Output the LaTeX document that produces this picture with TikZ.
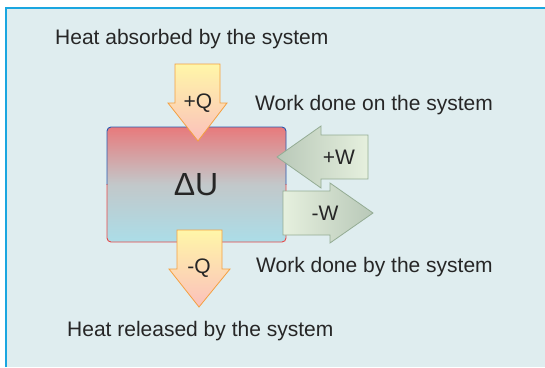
\documentclass[tikz,border=0pt]{standalone}
\usepackage{fontspec}
\setmainfont{Liberation Sans}
\begin{document}
\begin{tikzpicture}[x=1pt,y=-1pt,
  lbl/.style={inner sep=0pt, text=black!85, font=\fontsize{21}{24}\selectfont},
  qarrow/.style={top color=qtop, bottom color=qbot, draw=qedge, line width=0.8pt, line join=miter},
  warrow/.style={draw=wedge, line width=0.8pt}]
\definecolor{bg}{HTML}{DFEDEF}
\definecolor{frame}{HTML}{1AA6E0}
\definecolor{qtop}{HTML}{FFF6A8}
\definecolor{qbot}{HTML}{FBC0BC}
\definecolor{qedge}{HTML}{F4A040}
\definecolor{wdark}{HTML}{B8C8B8}
\definecolor{wpale}{HTML}{E6F0DE}
\definecolor{wedge}{HTML}{94AC94}
\definecolor{utop}{HTML}{E87A7C}
\definecolor{umid}{HTML}{C2C8CA}
\definecolor{ubot}{HTML}{ABDDE8}
\useasboundingbox (0,0) rectangle (545,367);
\fill[white] (0,0) rectangle (545,367);
\fill[bg] (6,8) rectangle (545,367);
\draw[frame, line width=2pt] (6,367) -- (6,8) -- (545,8);
% system box
\shade[top color=utop, bottom color=ubot, middle color=umid, rounded corners=4pt] (107,127) rectangle (286,242);
\begin{scope}
\clip (100,120) rectangle (300,184);
\draw[draw={rgb,255:red,40;green,90;blue,175}, line width=0.9pt, rounded corners=4pt] (107,127) rectangle (286,242);
\end{scope}
\begin{scope}
\clip (100,184) rectangle (300,250);
\draw[draw={rgb,255:red,232;green,72;blue,72}, line width=0.9pt, rounded corners=4pt] (107,127) rectangle (286,242);
\end{scope}
\node[lbl, font=\fontsize{32}{36}\selectfont] (du) at (196,185) {ΔU};
% +Q arrow
\path[qarrow] (175,64) -- (220,64) -- (220,103) -- (227,103) -- (198,141) -- (168,103) -- (175,103) -- cycle;
\node[lbl] (pq) at (198,103) {+Q};
% -Q arrow
\path[qarrow] (177,230) -- (222,230) -- (222,269) -- (230,269) -- (199,307) -- (169,269) -- (177,269) -- cycle;
\node[lbl] (mq) at (199,268) {-Q};
% +W arrow
\path[warrow, left color=wdark, right color=wpale] (277,157) -- (321,126) -- (321,135) -- (368,135) -- (368,179) -- (321,179) -- (321,188) -- cycle;
\node[lbl] (pw) at (339,157) {+W};
% -W arrow
\path[warrow, left color=wpale, right color=wdark] (283,191) -- (330,191) -- (330,183) -- (373,213) -- (330,243) -- (330,235) -- (283,235) -- cycle;
\node[lbl] (mw) at (325,213) {-W};
% texts
\node[lbl, anchor=base west] (ta) at (55,44) {Heat absorbed by the system};
\node[lbl, anchor=base west] (tb) at (255,110) {Work done on the system};
\node[lbl, anchor=base west] (tc) at (256,272) {Work done by the system};
\node[lbl, anchor=base west] (td) at (67,336) {Heat released by the system};
\end{tikzpicture}
\end{document}
